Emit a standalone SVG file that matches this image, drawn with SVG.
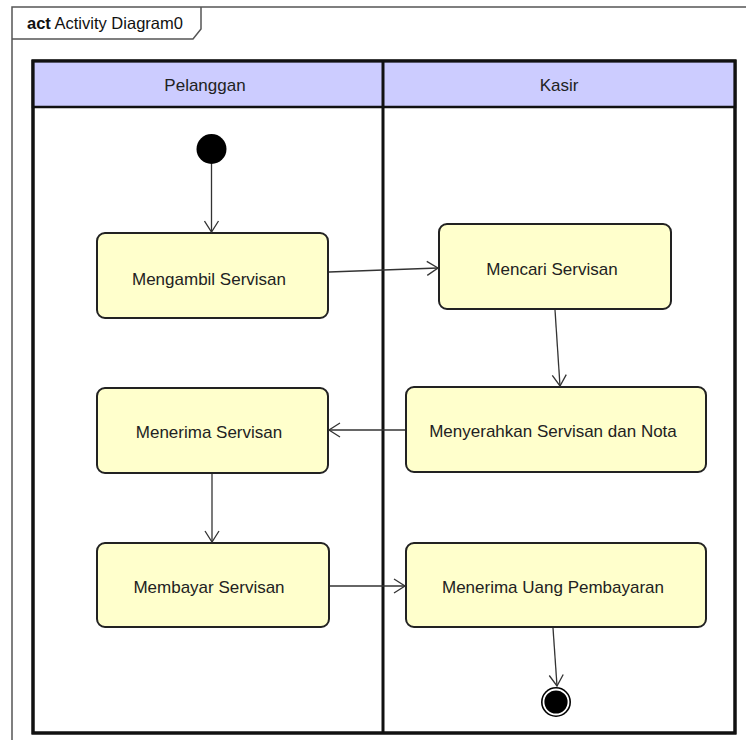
<svg xmlns="http://www.w3.org/2000/svg" width="746" height="740" viewBox="0 0 746 740">
  <defs>
    <marker id="open" markerWidth="14" markerHeight="16" refX="12" refY="8" orient="auto" markerUnits="userSpaceOnUse">
      <path d="M1,1 L12,8 L1,15" fill="none" stroke="#333" stroke-width="1.3"/>
    </marker>
    <style>
      .frame { fill: none; stroke: #555; stroke-width: 1.5; }
      .lane { fill: #ffffff; stroke: #111; stroke-width: 3; }
      .head { fill: #ccccff; stroke: #111; stroke-width: 2.5; }
      .node { fill: #ffffcc; stroke: #222; stroke-width: 2; }
      .lbl { font-family: "Liberation Sans", Arial, sans-serif; font-size: 17px; fill: #222; text-anchor: middle; }
      .edge { fill: none; stroke: #333; stroke-width: 1.3; marker-end: url(#open); }
    </style>
  </defs>

  <rect width="746" height="740" fill="#ffffff"/>

  <!-- diagram frame with name tab -->
  <g id="frame">
    <path class="frame" d="M12,740 L12,7 L746,7"/>
    <path class="frame" d="M12,39 L193,39 L201,29 L201,7"/>
    <text x="27" y="29" font-family="Liberation Sans, Arial, sans-serif" font-size="16.5" fill="#111"><tspan font-weight="bold">act</tspan> Activity Diagram0</text>
  </g>

  <!-- swimlanes -->
  <g id="lanes">
    <rect class="lane" x="33" y="61" width="702" height="672"/>
    <rect class="head" x="33" y="61" width="702" height="46"/>
    <line x1="383" y1="61" x2="383" y2="733" stroke="#111" stroke-width="3"/>
    <rect x="33" y="61" width="702" height="672" fill="none" stroke="#111" stroke-width="3"/>
    <text class="lbl" x="205" y="91">Pelanggan</text>
    <text class="lbl" x="559" y="91">Kasir</text>
  </g>

  <!-- initial node -->
  <g id="start">
    <circle cx="211.5" cy="149" r="15" fill="#000"/>
  </g>

  <!-- actions -->
  <g id="mengambil">
    <rect class="node" x="97" y="233" width="231" height="85" rx="8"/>
    <text class="lbl" x="209" y="285">Mengambil Servisan</text>
  </g>
  <g id="mencari">
    <rect class="node" x="439" y="224" width="232" height="85" rx="8"/>
    <text class="lbl" x="552" y="275">Mencari Servisan</text>
  </g>
  <g id="menyerahkan">
    <rect class="node" x="406" y="387" width="300" height="85" rx="8"/>
    <text class="lbl" x="553" y="437">Menyerahkan Servisan dan Nota</text>
  </g>
  <g id="menerima-servisan">
    <rect class="node" x="97" y="388" width="231" height="85" rx="8"/>
    <text class="lbl" x="209" y="438">Menerima Servisan</text>
  </g>
  <g id="membayar">
    <rect class="node" x="97" y="543" width="232" height="84" rx="8"/>
    <text class="lbl" x="209" y="593">Membayar Servisan</text>
  </g>
  <g id="menerima-uang">
    <rect class="node" x="406" y="543" width="300" height="84" rx="8"/>
    <text class="lbl" x="553" y="593">Menerima Uang Pembayaran</text>
  </g>

  <!-- final node -->
  <g id="end">
    <circle cx="556" cy="702" r="15" fill="#000"/>
    <circle cx="556" cy="702" r="12.5" fill="none" stroke="#fff" stroke-width="1.8"/>
  </g>

  <!-- control flows -->
  <g id="connectors">
    <path class="edge" d="M211.5,164 L211.5,232"/>
    <path class="edge" d="M329,272 L438,268"/>
    <path class="edge" d="M555,310 L560,386"/>
    <path class="edge" d="M405,430 L329,430"/>
    <path class="edge" d="M212,474 L212,542"/>
    <path class="edge" d="M330,586 L405,586"/>
    <path class="edge" d="M553,628 L557,686"/>
  </g>
</svg>
